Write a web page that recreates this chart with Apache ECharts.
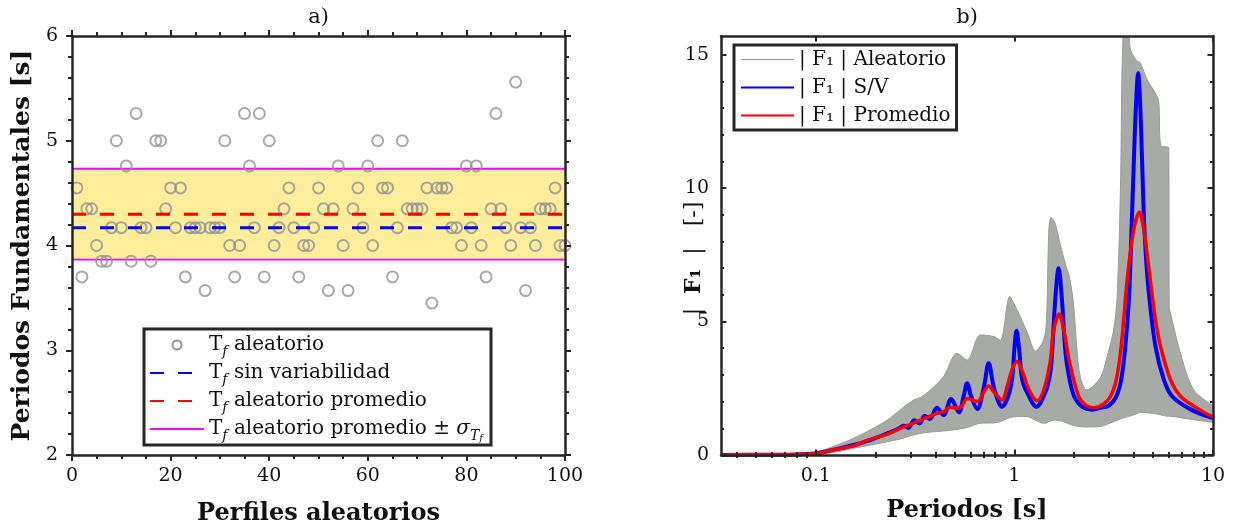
<!DOCTYPE html>
<html>
<head>
<meta charset="utf-8">
<script src="https://cdn.jsdelivr.net/npm/echarts@6/dist/echarts.min.js"></script>
<style>
  html, body { margin: 0; padding: 0; background: #ffffff; }
  #chart { width: 1238px; height: 532px; }
</style>
</head>
<body>
<div id="chart"></div>
<script>
// ---------- a) Periodos fundamentales de los perfiles aleatorios ----------
const perfiles = [
  1, 2, 3, 4, 5, 6, 7, 8, 9, 10, 11, 12, 13, 14, 15, 16, 17, 18, 19, 20,
  21, 22, 23, 24, 25, 26, 27, 28, 29, 30, 31, 32, 33, 34, 35, 36, 37, 38, 39, 40,
  41, 42, 43, 44, 45, 46, 47, 48, 49, 50, 51, 52, 53, 54, 55, 56, 57, 58, 59, 60,
  61, 62, 63, 64, 65, 66, 67, 68, 69, 70, 71, 72, 73, 74, 75, 76, 77, 78, 79, 80,
  81, 82, 83, 84, 85, 86, 87, 88, 89, 90, 91, 92, 93, 94, 95, 96, 97, 98, 99, 100
];
const tfAleatorio = [
  4.55, 3.70, 4.35, 4.35, 4.00, 3.85, 3.85, 4.17, 5.00, 4.17,
  4.76, 3.85, 5.26, 4.17, 4.17, 3.85, 5.00, 5.00, 4.35, 4.55,
  4.17, 4.55, 3.70, 4.17, 4.17, 4.17, 3.57, 4.17, 4.17, 4.17,
  5.00, 4.00, 3.70, 4.00, 5.26, 4.76, 4.17, 5.26, 3.70, 5.00,
  4.00, 4.17, 4.35, 4.55, 4.17, 3.70, 4.00, 4.00, 4.17, 4.55,
  4.35, 3.57, 4.35, 4.76, 4.00, 3.57, 4.35, 4.55, 4.17, 4.76,
  4.00, 5.00, 4.55, 4.55, 3.70, 4.17, 5.00, 4.35, 4.35, 4.35,
  4.35, 4.55, 3.45, 4.55, 4.55, 4.55, 4.17, 4.17, 4.00, 4.76,
  4.17, 4.76, 4.00, 3.70, 4.35, 5.26, 4.35, 4.17, 4.00, 5.56,
  4.17, 3.57, 4.17, 4.00, 4.35, 4.35, 4.35, 4.55, 4.00, 4.00
];
const tfSinVariabilidad = 4.17;
const ticksPerfiles = [0, 20, 40, 60, 80, 100];
const ticksPeriodoFund = [2, 3, 4, 5, 6];

// ---------- b) Funciones de transferencia |F1| ----------
const periodoSV = [
  0.0333, 0.06, 0.08, 0.1, 0.123, 0.155, 0.188, 0.229, 0.26, 0.277,
  0.292, 0.313, 0.333, 0.353, 0.375, 0.407, 0.44, 0.48, 0.525, 0.555,
  0.578, 0.605, 0.65, 0.70, 0.742, 0.79, 0.867, 0.93, 0.975, 1.0,
  1.025, 1.055, 1.095, 1.16, 1.29, 1.43, 1.50, 1.535, 1.61, 1.67,
  1.73, 1.81, 1.90, 2.0, 2.2, 2.46, 2.75, 2.99, 3.26, 3.45,
  3.62, 3.78, 3.87, 3.99, 4.1, 4.2, 4.29, 4.4, 4.52, 4.72,
  5.13, 5.65, 6.22, 7.71, 10
];
const fSV = [
  0, 0.01, 0.02, 0.07, 0.2, 0.375, 0.56, 0.81, 0.98, 1.1,
  1.02, 1.3, 1.18, 1.47, 1.35, 1.77, 1.5, 2.1, 1.6, 2.2,
  2.69, 2.2, 1.72, 2.5, 3.44, 2.5, 1.81, 2.2, 2.9, 4.0,
  4.66, 4.0, 2.81, 2.33, 1.81, 2.34, 2.9, 3.44, 5.94, 7.0,
  5.94, 3.8, 2.8, 2.2, 1.8, 1.70, 1.78, 1.85, 2.2, 2.83,
  4.08, 5.94, 8.0, 10.9, 13.2, 14.3, 13.3, 10.9, 8.4, 6.3,
  4.08, 2.83, 2.2, 1.71, 1.38
];
const periodoProm = [
  0.0333, 0.06, 0.08, 0.1, 0.123, 0.155, 0.181, 0.229, 0.266, 0.30,
  0.336, 0.375, 0.407, 0.44, 0.476, 0.51, 0.54, 0.58, 0.65, 0.70,
  0.74, 0.80, 0.867, 0.92, 0.973, 1.03, 1.1, 1.18, 1.30, 1.40,
  1.51, 1.58, 1.68, 1.77, 1.9, 2.11, 2.3, 2.51, 2.8, 3.05,
  3.26, 3.45, 3.70, 3.99, 4.26, 4.48, 4.68, 4.9, 5.15, 5.44,
  6.1, 6.86, 8.5, 10
];
const fProm = [
  0, 0.01, 0.02, 0.06, 0.2, 0.34, 0.55, 0.78, 1.0, 1.15,
  1.31, 1.45, 1.56, 1.62, 1.79, 1.75, 1.81, 2.12, 2.0, 2.35,
  2.59, 2.3, 2.06, 2.58, 3.2, 3.5, 3.1, 2.46, 2.04, 2.4,
  3.44, 4.7, 5.28, 4.7, 3.44, 2.19, 1.85, 1.77, 1.9, 2.2,
  2.83, 4.08, 6.58, 8.45, 9.1, 8.45, 7.4, 6.2, 5.0, 4.08,
  2.83, 2.2, 1.71, 1.42
];
// Upper and lower envelope of the 100 random-profile transfer functions
const periodoEnv = [
  0.0333, 0.08, 0.1, 0.128, 0.155, 0.188, 0.229, 0.266, 0.31, 0.336,
  0.378, 0.44, 0.514, 0.578, 0.674, 0.787, 0.85, 0.947, 1.03, 1.16,
  1.276, 1.40, 1.45, 1.49, 1.53, 1.6, 1.7, 1.8, 1.9, 1.99,
  2.06, 2.15, 2.32, 2.71, 2.93, 3.16, 3.29, 3.42, 3.49, 3.58,
  3.75, 3.84, 4.15, 4.3, 4.66, 5.13, 5.33, 5.45, 5.99, 6.02,
  6.11, 6.86, 8.0, 10
];
const envSup = [
  0, 0.03, 0.1, 0.375, 0.63, 0.94, 1.31, 1.69, 2.06, 2.15,
  2.44, 2.94, 3.81, 3.56, 4.5, 4.44, 4.3, 5.94, 5.44, 4.6,
  3.9, 4.3, 5.0, 8.4, 8.9, 8.7, 7.9, 7.2, 6.6, 5.56,
  4.06, 2.9, 2.44, 2.9, 3.69, 4.69, 5.94, 10.0, 14.69, 16,
  16, 15.2, 14.75, 14.7, 14.06, 13.56, 13.25, 11.6, 11.5, 5.5,
  5.31, 3.8, 2.44, 1.85
];
const envInf = [
  0, 0.01, 0.02, 0.12, 0.25, 0.37, 0.5, 0.6, 0.75, 0.81,
  0.86, 0.9, 0.96, 1.03, 1.19, 1.2, 1.25, 1.4, 1.44, 1.44,
  1.3, 1.19, 1.2, 1.25, 1.28, 1.31, 1.28, 1.22, 1.15, 1.1,
  1.08, 1.06, 1.05, 1.07, 1.15, 1.25, 1.3, 1.35, 1.38, 1.4,
  1.44, 1.46, 1.55, 1.6, 1.58, 1.55, 1.52, 1.5, 1.45, 1.45,
  1.45, 1.4, 1.32, 1.22
];
const ticksPeriodo = [0.1, 1, 10];
const ticksPeriodoMenores = [
  0.04, 0.05, 0.06, 0.07, 0.08, 0.09,
  0.2, 0.3, 0.4, 0.5, 0.6, 0.7, 0.8, 0.9,
  2, 3, 4, 5, 6, 7, 8, 9
];
const ticksF1 = [0, 5, 10, 15];
const ticksF1Menores = [1, 2, 3, 4, 6, 7, 8, 9, 11, 12, 13, 14];

// ---------- statistics of the random fundamental periods ----------
const n = tfAleatorio.length;
const tfMedia = tfAleatorio.reduce((a, b) => a + b, 0) / n;
const tfSigma = Math.sqrt(tfAleatorio.reduce((a, b) => a + (b - tfMedia) ** 2, 0) / (n - 1));

const FONT = 'DejaVu Serif';
const INK = '#262626';
const TXT = '#111111';
const GRAY = '#9a9c98';

const pairs = (xs, ys) => xs.map((x, i) => [x, ys[i]]);

function boxAxis(extra) {
  return Object.assign({
    z: 10,
    splitLine: { show: false },
    axisLine: { show: true, onZero: false, lineStyle: { color: INK, width: 2.5 } },
    axisLabel: { show: false },
    nameMoveOverlap: false,
    silent: true
  }, extra);
}

const chart = echarts.init(document.getElementById('chart'), null, { renderer: 'canvas' });

const subRich = {
  t: { fontFamily: FONT, fontSize: 20, color: TXT, lineHeight: 28, verticalAlign: 'middle' },
  s: { fontFamily: FONT, fontSize: 14, fontStyle: 'italic', color: TXT, lineHeight: 28, verticalAlign: 'bottom' },
  g: { fontFamily: FONT, fontSize: 20, fontStyle: 'italic', color: TXT, lineHeight: 28, verticalAlign: 'middle' },
  ss: { fontFamily: FONT, fontSize: 10, fontStyle: 'italic', color: TXT, lineHeight: 28, verticalAlign: 'bottom' }
};
const leyendaA = {
  aleatorio: '{t|T}{s|f}{t| aleatorio}',
  sinVar: '{t|T}{s|f}{t| sin variabilidad}',
  promedio: '{t|T}{s|f}{t| aleatorio promedio}',
  banda: '{t|T}{s|f}{t| aleatorio promedio ± }{g|σ}{s|T}{ss|f}'
};
const hiddenSymbol = { opacity: 0 };
// thin horizontal bar used as the legend key of the gray curves
const iconLineaFina = 'path://M0,0L60,0L60,1L0,1Z';

const option = {
  animation: false,
  backgroundColor: '#ffffff',
  grid: [
    { left: 72, top: 36, width: 493, height: 419, containLabel: false, outerBoundsMode: 'none' },
    { left: 721, top: 36, width: 492, height: 419, containLabel: false, outerBoundsMode: 'none' }
  ],
  xAxis: [
    // a) bottom
    boxAxis({
      gridIndex: 0, type: 'value', position: 'bottom', min: 0, max: 100, interval: 20,
      axisTick: { show: true, inside: false, length: 6, lineStyle: { color: INK, width: 2 } },
      minorTick: { show: true, splitNumber: 4, length: 4, lineStyle: { color: INK, width: 2 } },
      axisLabel: { show: true, customValues: ticksPerfiles, color: TXT, fontFamily: FONT, fontSize: 19, margin: 12 },
      name: 'Perfiles aleatorios', nameLocation: 'middle', nameGap: 47,
      nameTextStyle: { fontFamily: FONT, fontWeight: 'bold', fontSize: 24, color: TXT }
    }),
    // a) top
    boxAxis({
      gridIndex: 0, type: 'value', position: 'top', min: 0, max: 100, interval: 20,
      axisTick: { show: true, inside: false, length: 6, lineStyle: { color: INK, width: 2 } },
      minorTick: { show: true, splitNumber: 4, length: 4, lineStyle: { color: INK, width: 2 } },
      name: 'a)', nameLocation: 'middle', nameGap: 8,
      nameTextStyle: { fontFamily: FONT, fontSize: 21, color: TXT }
    }),
    // b) bottom, major
    boxAxis({
      gridIndex: 1, type: 'log', logBase: 10, position: 'bottom', min: 0.0333, max: 10,
      axisTick: { show: true, inside: true, length: 5.5, customValues: ticksPeriodo, lineStyle: { color: INK, width: 2 } },
      axisLabel: { show: true, customValues: ticksPeriodo, color: TXT, fontFamily: FONT, fontSize: 19, margin: 12,
        formatter: v => String(v) },
      name: 'Periodos [s]', nameLocation: 'middle', nameGap: 44,
      nameTextStyle: { fontFamily: FONT, fontWeight: 'bold', fontSize: 24, color: TXT }
    }),
    // b) bottom, minor
    boxAxis({
      gridIndex: 1, type: 'log', logBase: 10, position: 'bottom', min: 0.0333, max: 10,
      axisLine: { show: false },
      axisTick: { show: true, inside: true, length: 3, customValues: ticksPeriodoMenores, lineStyle: { color: INK, width: 2 } }
    }),
    // b) top, major
    boxAxis({
      gridIndex: 1, type: 'log', logBase: 10, position: 'top', min: 0.0333, max: 10,
      axisTick: { show: true, inside: true, length: 5.5, customValues: ticksPeriodo, lineStyle: { color: INK, width: 2 } },
      name: 'b)', nameLocation: 'middle', nameGap: 8,
      nameTextStyle: { fontFamily: FONT, fontSize: 21, color: TXT }
    }),
    // b) top, minor
    boxAxis({
      gridIndex: 1, type: 'log', logBase: 10, position: 'top', min: 0.0333, max: 10,
      axisLine: { show: false },
      axisTick: { show: true, inside: true, length: 3, customValues: ticksPeriodoMenores, lineStyle: { color: INK, width: 2 } }
    })
  ],
  yAxis: [
    // a) left
    boxAxis({
      gridIndex: 0, type: 'value', position: 'left', min: 2, max: 6, interval: 1,
      axisTick: { show: true, inside: false, length: 6, lineStyle: { color: INK, width: 2 } },
      minorTick: { show: true, splitNumber: 5, length: 4, lineStyle: { color: INK, width: 2 } },
      axisLabel: { show: true, customValues: ticksPeriodoFund, color: TXT, fontFamily: FONT, fontSize: 19, margin: 14 },
      name: 'Periodos Fundamentales [s]', nameLocation: 'middle', nameGap: 37,
      nameTextStyle: { fontFamily: FONT, fontWeight: 'bold', fontSize: 25, color: TXT }
    }),
    // a) right
    boxAxis({
      gridIndex: 0, type: 'value', position: 'right', min: 2, max: 6, interval: 1,
      axisTick: { show: true, inside: false, length: 6, lineStyle: { color: INK, width: 2 } },
      minorTick: { show: true, splitNumber: 5, length: 4, lineStyle: { color: INK, width: 2 } }
    }),
    // b) left, major
    boxAxis({
      gridIndex: 1, type: 'value', position: 'left', min: 0, max: 15.7,
      axisTick: { show: true, inside: true, length: 5.5, customValues: ticksF1, lineStyle: { color: INK, width: 2 } },
      axisLabel: { show: true, customValues: ticksF1, color: TXT, fontFamily: FONT, fontSize: 19, margin: 12 },
      name: '{r||  }{b|F₁}{r|  |   [-]}', nameLocation: 'middle', nameGap: 16,
      nameTextStyle: {
        fontFamily: FONT, fontSize: 22, color: TXT, padding: [0, 26, 0, 0],
        rich: {
          r: { fontFamily: FONT, fontSize: 22, color: TXT },
          b: { fontFamily: FONT, fontSize: 22, fontWeight: 'bold', color: TXT }
        }
      }
    }),
    // b) left, minor
    boxAxis({
      gridIndex: 1, type: 'value', position: 'left', min: 0, max: 15.7,
      axisLine: { show: false },
      axisTick: { show: true, inside: true, length: 3, customValues: ticksF1Menores, lineStyle: { color: INK, width: 2 } }
    }),
    // b) right, major
    boxAxis({
      gridIndex: 1, type: 'value', position: 'right', min: 0, max: 15.7,
      axisTick: { show: true, inside: true, length: 5.5, customValues: ticksF1, lineStyle: { color: INK, width: 2 } }
    }),
    // b) right, minor
    boxAxis({
      gridIndex: 1, type: 'value', position: 'right', min: 0, max: 15.7,
      axisLine: { show: false },
      axisTick: { show: true, inside: true, length: 3, customValues: ticksF1Menores, lineStyle: { color: INK, width: 2 } }
    })
  ],
  legend: [
    {
      data: [
        { name: 'aleatorio', icon: 'circle', itemStyle: { opacity: 1, color: 'rgba(0,0,0,0)', borderColor: '#949494', borderWidth: 2 } },
        { name: 'sinVar', itemStyle: hiddenSymbol },
        { name: 'promedio', itemStyle: hiddenSymbol },
        { name: 'banda', itemStyle: hiddenSymbol }
      ],
      orient: 'vertical', left: 144, top: 329,
      itemWidth: 54, itemHeight: 9, itemGap: 0,
      padding: [2, 8, 2, 5],
      borderColor: INK, borderWidth: 3, backgroundColor: '#ffffff',
      selectedMode: false,
      formatter: name => leyendaA[name],
      textStyle: { fontFamily: FONT, fontSize: 20, color: TXT, lineHeight: 28, rich: subRich }
    },
    {
      data: [
        { name: 'Aleatorio', icon: iconLineaFina, itemStyle: { opacity: 1, color: GRAY, borderWidth: 0 } },
        { name: 'S/V', itemStyle: hiddenSymbol },
        { name: 'Promedio', itemStyle: hiddenSymbol }
      ],
      orient: 'vertical', left: 734, top: 45,
      itemWidth: 53, itemHeight: 14, itemGap: 1,
      padding: [1, 6, 1, 6],
      borderColor: INK, borderWidth: 3, backgroundColor: '#ffffff',
      selectedMode: false,
      formatter: name => '| F₁ | ' + name,
      textStyle: { fontFamily: FONT, fontSize: 20, color: TXT, lineHeight: 27 }
    }
  ],
  series: [
    // a) mean ± sigma band
    {
      name: 'bandaInf', type: 'line', xAxisIndex: 0, yAxisIndex: 0, z: 1,
      data: [[0, tfMedia - tfSigma], [100, tfMedia - tfSigma]],
      symbol: 'none', lineStyle: { color: '#ff00ff', width: 1.8 },
      markArea: {
        silent: true,
        itemStyle: { color: '#fdee9b', opacity: 1 },
        data: [[{ yAxis: tfMedia - tfSigma }, { yAxis: tfMedia + tfSigma }]]
      }
    },
    {
      name: 'banda', type: 'line', xAxisIndex: 0, yAxisIndex: 0, z: 2,
      data: [[0, tfMedia + tfSigma], [100, tfMedia + tfSigma]],
      symbol: 'none', itemStyle: { color: '#ff00ff' }, lineStyle: { color: '#ff00ff', width: 1.8 }
    },
    {
      name: 'aleatorio', type: 'scatter', xAxisIndex: 0, yAxisIndex: 0, z: 3,
      data: pairs(perfiles, tfAleatorio),
      symbol: 'circle', symbolSize: 11,
      itemStyle: { color: 'rgba(0,0,0,0)', borderColor: '#949494', borderWidth: 2 }
    },
    {
      name: 'sinVar', type: 'line', xAxisIndex: 0, yAxisIndex: 0, z: 4,
      data: [[0, tfSinVariabilidad], [100, tfSinVariabilidad]],
      symbol: 'none', itemStyle: { color: '#0000ff' }, lineStyle: { color: '#0000ff', width: 3, type: [14, 14] }
    },
    {
      name: 'promedio', type: 'line', xAxisIndex: 0, yAxisIndex: 0, z: 4,
      data: [[0, tfMedia], [100, tfMedia]],
      symbol: 'none', itemStyle: { color: '#ff0000' }, lineStyle: { color: '#ff0000', width: 3, type: [14, 14] }
    },
    // b) envelope of the random transfer functions: gray fill under the upper
    // envelope, cleared to white under the lower envelope
    {
      name: 'envSupRelleno', type: 'line', xAxisIndex: 2, yAxisIndex: 2, z: 1,
      data: pairs(periodoEnv, envSup), smooth: 0.3,
      symbol: 'none', lineStyle: { width: 0, opacity: 0 },
      areaStyle: { color: '#a8aaa6', opacity: 1 }
    },
    {
      name: 'envInf', type: 'line', xAxisIndex: 2, yAxisIndex: 2, z: 2,
      data: pairs(periodoEnv, envInf), smooth: 0.3,
      symbol: 'none', itemStyle: { color: GRAY }, lineStyle: { color: GRAY, width: 1 },
      areaStyle: { color: '#ffffff', opacity: 1 }
    },
    {
      name: 'Aleatorio', type: 'line', xAxisIndex: 2, yAxisIndex: 2, z: 2,
      data: pairs(periodoEnv, envSup), smooth: 0.3,
      symbol: 'none', itemStyle: { color: GRAY }, lineStyle: { color: GRAY, width: 1 }
    },
    {
      name: 'S/V', type: 'line', xAxisIndex: 2, yAxisIndex: 2, z: 3,
      data: pairs(periodoSV, fSV), smooth: 0.35,
      symbol: 'none', itemStyle: { color: '#0000ff' }, lineStyle: { color: '#0000ff', width: 4 }
    },
    {
      name: 'Promedio', type: 'line', xAxisIndex: 2, yAxisIndex: 2, z: 4,
      data: pairs(periodoProm, fProm), smooth: 0.35,
      symbol: 'none', itemStyle: { color: '#ff0000' }, lineStyle: { color: '#ff0000', width: 3.5 }
    }
  ]
};

chart.setOption(option);
</script>
</body>
</html>
